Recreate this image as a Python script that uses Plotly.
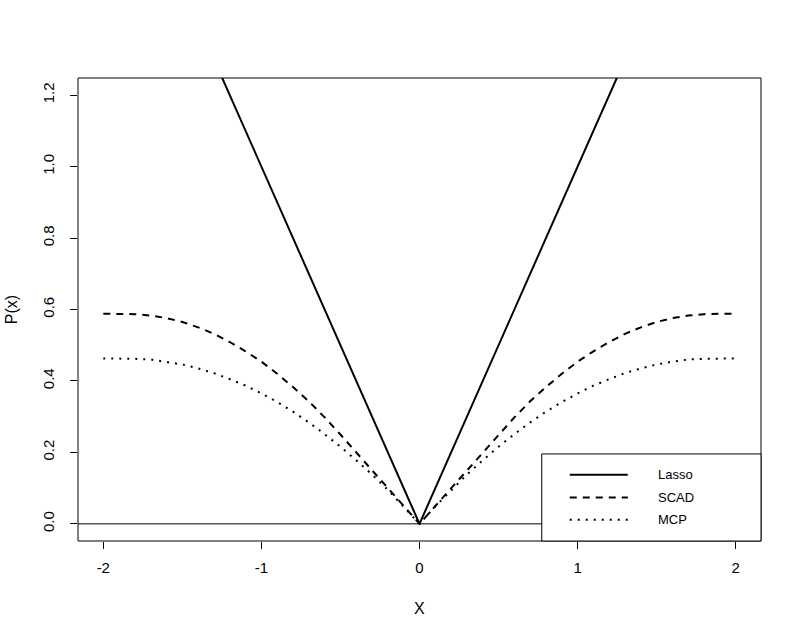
import plotly.graph_objects as go

# penalty curves
x_vals = [-2.0, -1.9, -1.8, -1.7, -1.6, -1.5, -1.4, -1.3, -1.2, -1.1, -1.0,
          -0.9, -0.8, -0.7, -0.6, -0.5, -0.4, -0.3, -0.2, -0.1, 0.0,
          0.1, 0.2, 0.3, 0.4, 0.5, 0.6, 0.7, 0.8, 0.9, 1.0,
          1.1, 1.2, 1.3, 1.4, 1.5, 1.6, 1.7, 1.8, 1.9, 2.0]
scad_vals = [0.588, 0.588, 0.587, 0.583, 0.576, 0.565, 0.550, 0.532, 0.509, 0.483, 0.454,
             0.420, 0.383, 0.343, 0.298, 0.250, 0.200, 0.150, 0.100, 0.050, 0.0,
             0.050, 0.100, 0.150, 0.200, 0.250, 0.298, 0.343, 0.383, 0.420, 0.454,
             0.483, 0.509, 0.532, 0.550, 0.565, 0.576, 0.583, 0.587, 0.588, 0.588]
mcp_vals = [0.463, 0.463, 0.462, 0.460, 0.454, 0.446, 0.435, 0.422, 0.405, 0.387, 0.365,
            0.341, 0.314, 0.284, 0.251, 0.216, 0.178, 0.138, 0.095, 0.049, 0.0,
            0.049, 0.095, 0.138, 0.178, 0.216, 0.251, 0.284, 0.314, 0.341, 0.365,
            0.387, 0.405, 0.422, 0.435, 0.446, 0.454, 0.460, 0.462, 0.463, 0.463]
lasso_x = [-2, 0, 2]
lasso_y = [2, 0, 2]

x_ticks = [-2, -1, 0, 1, 2]
x_tick_text = ["-2", "-1", "0", "1", "2"]
y_ticks = [0.0, 0.2, 0.4, 0.6, 0.8, 1.0, 1.2]
y_tick_text = ["0.0", "0.2", "0.4", "0.6", "0.8", "1.0", "1.2"]
legend_names = ["Lasso", "SCAD", "MCP"]
legend_dash = ["solid", "7px,6px", "2px,6px"]

FONT = "Liberation Sans, Arial, sans-serif"

fig = go.Figure()
fig.add_trace(go.Scatter(x=lasso_x, y=lasso_y, mode="lines",
                         line=dict(color="black", width=2)))
fig.add_trace(go.Scatter(x=x_vals, y=scad_vals, mode="lines",
                         line=dict(color="black", width=2, dash=legend_dash[1])))
fig.add_trace(go.Scatter(x=x_vals, y=mcp_vals, mode="lines",
                         line=dict(color="black", width=2, dash=legend_dash[2])))
fig.add_hline(y=0, line=dict(color="black", width=1))

# plot box
fig.add_shape(type="rect", xref="paper", yref="paper", x0=0, x1=1, y0=0, y1=1,
              line=dict(color="black", width=1), layer="above")

# legend box (bottom right)
fig.add_shape(type="rect", xref="paper", yref="paper", x0=0.679, x1=1, y0=0, y1=0.188,
              line=dict(color="black", width=1), fillcolor="white", layer="above")
rows = [0.143, 0.094, 0.046]
for name, dash, yy in zip(legend_names, legend_dash, rows):
    fig.add_shape(type="line", xref="paper", yref="paper", x0=0.720, x1=0.805, y0=yy, y1=yy,
                  line=dict(color="black", width=2, dash=dash), layer="above")
    fig.add_annotation(text=name, xref="paper", yref="paper", x=0.846, y=yy,
                       xanchor="left", yanchor="middle", showarrow=False,
                       font=dict(size=13, color="black", family=FONT))

# axis titles
fig.add_annotation(text="X", xref="paper", yref="paper", x=0.5, y=-0.145,
                   xanchor="center", yanchor="middle", showarrow=False,
                   font=dict(size=16, color="black", family=FONT))
fig.add_annotation(text="P(x)", xref="paper", yref="paper", x=-0.097, y=0.5,
                   xanchor="center", yanchor="middle", textangle=-90, showarrow=False,
                   font=dict(size=16, color="black", family=FONT))

fig.update_layout(
    width=802, height=639,
    margin=dict(l=78, r=41, t=78, b=98),
    paper_bgcolor="white", plot_bgcolor="white",
    showlegend=False,
    font=dict(family=FONT, size=15, color="black"),
)
fig.update_xaxes(range=[-2.16, 2.16], tickvals=x_ticks, ticktext=x_tick_text,
                 ticks="outside", ticklen=7, tickcolor="black", showgrid=False,
                 zeroline=False, showline=False, ticklabelstandoff=6)
fig.update_yaxes(range=[-0.048, 1.248], tickvals=y_ticks, ticktext=y_tick_text,
                 ticks="outside", ticklen=7, tickcolor="black", tickangle=-90,
                 showgrid=False, zeroline=False, showline=False, ticklabelstandoff=10)

fig.write_html("out.html", config={"displayModeBar": False},
               post_script="document.body.style.margin='0';")
